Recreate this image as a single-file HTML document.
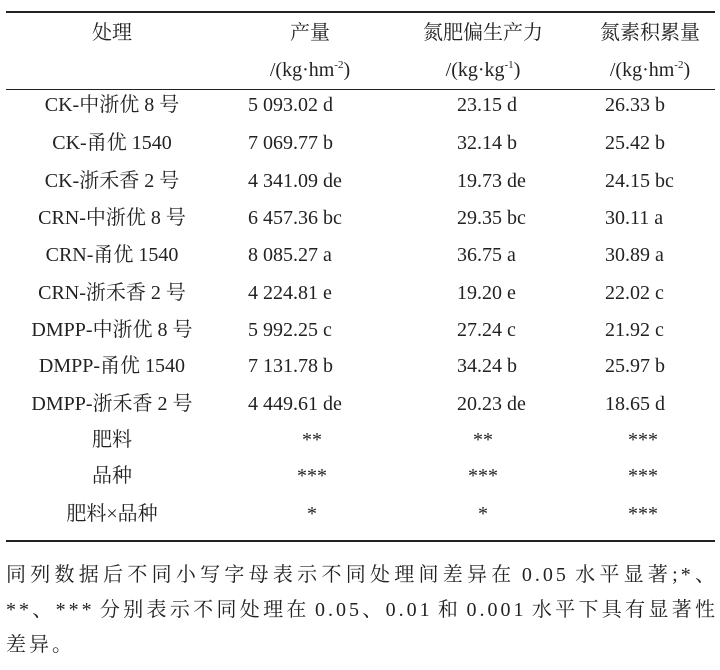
<!DOCTYPE html>
<html><head><meta charset="utf-8"><style>
body{margin:0;width:720px;height:670px;background:#fff;position:relative;font-family:"Liberation Serif","Noto Serif CJK SC",serif;color:#222;font-size:20px;overflow:hidden}
.t{position:absolute;white-space:nowrap;line-height:24px}
.c{transform:translateX(-50%)}
.rule{position:absolute;left:6px;width:709px;background:#222}
.fn{position:absolute;left:6px;width:712px;text-align:justify;text-align-last:justify;white-space:nowrap;line-height:24px;font-size:20px;letter-spacing:3px;word-spacing:-3px}
sup{font-size:11px;vertical-align:8px;line-height:0}
</style></head><body>
<div class="rule" style="top:11px;height:2px"></div>
<div class="rule" style="top:89px;height:1px"></div>
<div class="rule" style="top:540px;height:2px"></div>

<div class="t c" style="left:112px;top:21px">处理</div>
<div class="t c" style="left:310px;top:21px">产量</div>
<div class="t c" style="left:483px;top:21px">氮肥偏生产力</div>
<div class="t c" style="left:650px;top:21px">氮素积累量</div>
<div class="t c" style="left:310px;top:58px">/(kg·hm<sup>-2</sup>)</div>
<div class="t c" style="left:483px;top:58px">/(kg·kg<sup>-1</sup>)</div>
<div class="t c" style="left:650px;top:58px">/(kg·hm<sup>-2</sup>)</div>

<div class="t c" style="left:112px;top:93px">CK-中浙优 8 号</div><div class="t" style="left:248px;top:93px">5 093.02 d</div><div class="t" style="left:457px;top:93px">23.15 d</div><div class="t" style="left:605px;top:93px">26.33 b</div>
<div class="t c" style="left:112px;top:131px">CK-甬优 1540</div><div class="t" style="left:248px;top:131px">7 069.77 b</div><div class="t" style="left:457px;top:131px">32.14 b</div><div class="t" style="left:605px;top:131px">25.42 b</div>
<div class="t c" style="left:112px;top:169px">CK-浙禾香 2 号</div><div class="t" style="left:248px;top:169px">4 341.09 de</div><div class="t" style="left:457px;top:169px">19.73 de</div><div class="t" style="left:605px;top:169px">24.15 bc</div>
<div class="t c" style="left:112px;top:206px">CRN-中浙优 8 号</div><div class="t" style="left:248px;top:206px">6 457.36 bc</div><div class="t" style="left:457px;top:206px">29.35 bc</div><div class="t" style="left:605px;top:206px">30.11 a</div>
<div class="t c" style="left:112px;top:243px">CRN-甬优 1540</div><div class="t" style="left:248px;top:243px">8 085.27 a</div><div class="t" style="left:457px;top:243px">36.75 a</div><div class="t" style="left:605px;top:243px">30.89 a</div>
<div class="t c" style="left:112px;top:281px">CRN-浙禾香 2 号</div><div class="t" style="left:248px;top:281px">4 224.81 e</div><div class="t" style="left:457px;top:281px">19.20 e</div><div class="t" style="left:605px;top:281px">22.02 c</div>
<div class="t c" style="left:112px;top:318px">DMPP-中浙优 8 号</div><div class="t" style="left:248px;top:318px">5 992.25 c</div><div class="t" style="left:457px;top:318px">27.24 c</div><div class="t" style="left:605px;top:318px">21.92 c</div>
<div class="t c" style="left:112px;top:354px">DMPP-甬优 1540</div><div class="t" style="left:248px;top:354px">7 131.78 b</div><div class="t" style="left:457px;top:354px">34.24 b</div><div class="t" style="left:605px;top:354px">25.97 b</div>
<div class="t c" style="left:112px;top:392px">DMPP-浙禾香 2 号</div><div class="t" style="left:248px;top:392px">4 449.61 de</div><div class="t" style="left:457px;top:392px">20.23 de</div><div class="t" style="left:605px;top:392px">18.65 d</div>
<div class="t c" style="left:112px;top:428px">肥料</div><div class="t c" style="left:312px;top:428px">**</div><div class="t c" style="left:483px;top:428px">**</div><div class="t c" style="left:643px;top:428px">***</div>
<div class="t c" style="left:112px;top:464px">品种</div><div class="t c" style="left:312px;top:464px">***</div><div class="t c" style="left:483px;top:464px">***</div><div class="t c" style="left:643px;top:464px">***</div>
<div class="t c" style="left:112px;top:502px">肥料×品种</div><div class="t c" style="left:312px;top:502px">*</div><div class="t c" style="left:483px;top:502px">*</div><div class="t c" style="left:643px;top:502px">***</div>

<div class="fn" style="top:563px">同列数据后不同小写字母表示不同处理间差异在 0.05 水平显著;*、</div>
<div class="fn" style="top:598px">**、*** 分别表示不同处理在 0.05、0.01 和 0.001 水平下具有显著性</div>
<div class="t" style="left:6px;top:633px;letter-spacing:3px">差异。</div>
</body></html>
